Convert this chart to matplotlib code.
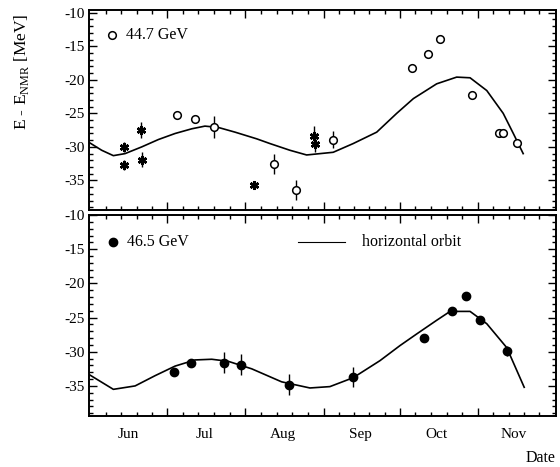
import numpy as np
import matplotlib
matplotlib.use('Agg')
import matplotlib.pyplot as plt

plt.rcParams['font.family'] = ['Liberation Serif', 'DejaVu Serif']
plt.rcParams['mathtext.fontset'] = 'custom'
plt.rcParams['mathtext.rm'] = 'Liberation Serif'
plt.rcParams['axes.unicode_minus'] = False

# x axis in day of year
MONTH_STARTS = [152, 182, 213, 244, 274, 305, 335]
MONTH_LABEL_POS = [166.6, 197.0, 227.8, 258.3, 288.7, 319.2]
MONTH_LABELS = ['Jun', 'Jul', 'Aug', 'Sep', 'Oct', 'Nov']

# 44.7 GeV, open circles
top_day = [186.1, 192.9, 200.5, 224.4, 233.1, 247.5, 279.0, 285.0, 289.9, 302.7, 313.2, 314.8, 320.2]
top_val = [-25.3, -25.9, -27.0, -32.6, -36.4, -28.9, -18.2, -16.1, -13.9, -22.3, -28.0, -28.0, -29.4]
top_err = [0.0, 0.0, 1.6, 1.5, 1.5, 1.3, 0.0, 0.0, 0.0, 0.0, 0.0, 0.0, 0.0]

# 44.7 GeV, stars
star_day = [165.1, 165.1, 171.6, 172.0, 216.5, 240.2, 240.4]
star_val = [-30.0, -32.7, -27.5, -31.9, -35.6, -28.4, -29.5]
star_err = [0.7, 0.7, 1.2, 1.1, 0.4, 1.5, 1.3]

# horizontal orbit model, top
top_curve_day = [151.5, 156.2, 160.8, 165.4, 172.0, 178.6, 185.2, 191.8, 197.0, 202.3, 208.9,
                 217.5, 222.7, 230.6, 237.2, 247.7, 255.6, 264.9, 272.8, 279.4, 288.6,
                 296.5, 301.8, 308.4, 314.9, 318.9, 322.8]
top_curve_val = [-29.4, -30.5, -31.3, -31.0, -30.0, -28.9, -28.0, -27.3, -26.9, -27.1, -27.8,
                 -28.8, -29.5, -30.5, -31.2, -30.8, -29.5, -27.8, -25.0, -22.8, -20.6,
                 -19.6, -19.7, -21.6, -25.0, -28.0, -31.0]

# 46.5 GeV, filled circles
bot_day = [184.6, 191.4, 204.4, 211.4, 230.2, 255.4, 283.6, 294.6, 300.2, 305.7, 316.3]
bot_val = [-32.9, -31.6, -31.6, -31.9, -34.8, -33.7, -28.0, -24.0, -21.9, -25.4, -29.9]
bot_err = [0.0, 0.0, 1.5, 1.5, 1.5, 1.4, 0.0, 0.0, 0.0, 0.0, 0.7]

# horizontal orbit model, bottom
bot_curve_day = [151.5, 160.8, 169.4, 177.3, 185.2, 193.1, 199.7, 206.2, 215.5, 227.3, 238.5,
                 246.4, 255.6, 266.2, 274.1, 280.7, 288.6, 293.9, 301.8, 308.4, 316.3, 323.2]
bot_curve_val = [-33.4, -35.5, -35.0, -33.5, -32.1, -31.2, -31.1, -31.4, -32.5, -34.4, -35.3,
                 -35.1, -33.8, -31.3, -29.1, -27.4, -25.4, -24.1, -24.1, -25.9, -29.4, -35.2]

fig = plt.figure(figsize=(5.6, 4.67), dpi=100)
ax1 = fig.add_axes([0.1595, 0.5503, 0.8335, 0.4283])
ax2 = fig.add_axes([0.1595, 0.1092, 0.8335, 0.4304])

minor_x = []
for a, b in zip(MONTH_STARTS[:-1], MONTH_STARTS[1:]):
    minor_x += list(np.linspace(a, b, 6)[1:-1])

for ax in (ax1, ax2):
    ax.set_xlim(151.3, 335.8)
    ax.set_xticks(MONTH_STARTS[1:-1])
    ax.set_xticks(minor_x, minor=True)
    ax.set_xticklabels([])
    ax.set_yticks([-35, -30, -25, -20, -15, -10])
    ax.set_yticks(np.arange(-39, -9, 1), minor=True)
    ax.tick_params(which='both', direction='in', top=True, right=True, labelsize=11, width=1.0)
    ax.tick_params(which='major', length=6)
    ax.tick_params(which='minor', length=3)
    for s in ax.spines.values():
        s.set_linewidth(1.4)

ax1.set_ylim(-39.4, -9.6)
ax2.set_ylim(-39.4, -10)

# top panel
ax1.plot(top_curve_day, top_curve_val, color='black', linewidth=1.2)
ax1.errorbar(top_day, top_val, yerr=top_err, fmt='o', mfc='white', mec='black', ecolor='black',
             ms=5.5, mew=1.1, elinewidth=1.0, capsize=0, zorder=3)
ax1.errorbar(star_day, star_val, yerr=star_err, fmt='none', ecolor='black', elinewidth=1.0, capsize=0)
ax1.plot(star_day, star_val, linestyle='none', marker=(6, 2, 0), color='black', ms=6.5, mew=1.8, zorder=4)

ax1.plot([0.049], [0.875], 'o', mfc='white', mec='black', ms=5.5, mew=1.1, transform=ax1.transAxes)
ax1.text(0.079, 0.875, '44.7 GeV', transform=ax1.transAxes, fontsize=11.5, va='center', ha='left')

# bottom panel
ax2.plot(bot_curve_day, bot_curve_val, color='black', linewidth=1.2)
ax2.errorbar(bot_day, bot_val, yerr=bot_err, fmt='o', color='black', ms=6, elinewidth=1.0,
             capsize=0, zorder=3)

ax2.plot([0.051], [0.866], 'o', color='black', ms=6, transform=ax2.transAxes)
ax2.text(0.081, 0.866, '46.5 GeV', transform=ax2.transAxes, fontsize=11.5, va='center', ha='left')
ax2.plot([0.447, 0.548], [0.866, 0.866], color='black', linewidth=0.8, transform=ax2.transAxes)
ax2.text(0.584, 0.866, 'horizontal orbit', transform=ax2.transAxes, fontsize=11.5, va='center', ha='left')

for pos, lab in zip(MONTH_LABEL_POS, MONTH_LABELS):
    ax2.text(pos, -0.06, lab, transform=ax2.get_xaxis_transform(), fontsize=11, ha='center', va='top')

fig.text(0.965, 0.02, 'Date', fontsize=11.5, ha='center', va='center')
fig.text(0.039, 0.846, r'E - E$_{\mathrm{NMR}}$ [MeV]', fontsize=12.5, rotation=90, ha='center', va='center')

fig.savefig('out.png', dpi=100, facecolor='white')
